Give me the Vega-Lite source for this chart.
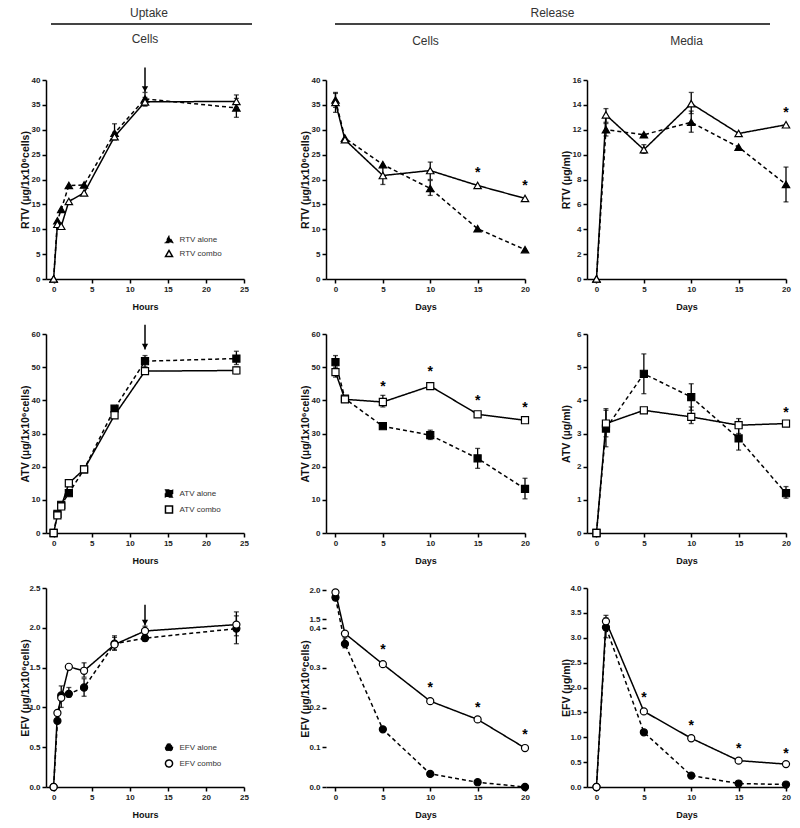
{
"$schema": "https://vega.github.io/schema/vega-lite/v6.json",
"padding": {"left": 20, "top": 7, "right": 5, "bottom": 5},
"background": "white",
"config": {
  "view": {"stroke": null},
  "font": "Liberation Sans",
  "axis": {"domainColor": "black", "domainWidth": 1.5, "tickColor": "black", "tickWidth": 1.5, "tickSize": 4, "labelFont": "Liberation Sans", "labelFontSize": 8, "labelFontWeight": "bold", "labelColor": "#222", "labelPadding": 2, "titleFont": "Liberation Sans", "titleFontSize": 9, "titleFontWeight": "bold", "titleColor": "#111", "grid": false, "labelOverlap": false, "labelFlush": false},
  "axisY": {"titlePadding": 1, "minExtent": 15, "maxExtent": 15, "titleFontSize": 10.5},
  "axisX": {"titlePadding": 9},
  "title": {"font": "Liberation Sans Narrow, Liberation Sans", "fontSize": 12, "fontWeight": "normal", "color": "#333", "anchor": "middle", "frame": "group"},
  "legend": {"title": null, "orient": "none", "legendX": 118.5, "legendY": 155, "labelFont": "Liberation Sans", "labelFontSize": 8, "labelColor": "#333", "symbolSize": 50, "labelOffset": 6, "rowPadding": 1, "padding": 0}
},
"datasets": {
  "obs": [
    {"p":"A","s":"RTV alone","x":0,"y":0},{"p":"A","s":"RTV alone","x":0.5,"y":11.7},{"p":"A","s":"RTV alone","x":1,"y":14.0},{"p":"A","s":"RTV alone","x":2,"y":18.8},{"p":"A","s":"RTV alone","x":4,"y":18.9},{"p":"A","s":"RTV alone","x":8,"y":29.3,"lo":28,"hi":31.2},{"p":"A","s":"RTV alone","x":12,"y":36.2,"lo":34.8,"hi":37.5},{"p":"A","s":"RTV alone","x":24,"y":34.4,"lo":32.5,"hi":36.3},
    {"p":"A","s":"RTV combo","x":0,"y":0},{"p":"A","s":"RTV combo","x":0.5,"y":11.0},{"p":"A","s":"RTV combo","x":1,"y":10.6},{"p":"A","s":"RTV combo","x":2,"y":15.6},{"p":"A","s":"RTV combo","x":4,"y":17.3},{"p":"A","s":"RTV combo","x":8,"y":28.6,"lo":28,"hi":29.5},{"p":"A","s":"RTV combo","x":12,"y":35.6,"lo":34.8,"hi":36.5},{"p":"A","s":"RTV combo","x":24,"y":35.7,"lo":34.5,"hi":37},
    {"p":"B","s":"RTV alone","x":0,"y":36,"lo":34.5,"hi":37.5},{"p":"B","s":"RTV alone","x":1,"y":28.3},{"p":"B","s":"RTV alone","x":5,"y":23.0},{"p":"B","s":"RTV alone","x":10,"y":18.2,"lo":16.8,"hi":19.8},{"p":"B","s":"RTV alone","x":15,"y":10.1},{"p":"B","s":"RTV alone","x":20,"y":5.9},
    {"p":"B","s":"RTV combo","x":0,"y":35.5,"lo":33.5,"hi":37.3},{"p":"B","s":"RTV combo","x":1,"y":28.0},{"p":"B","s":"RTV combo","x":5,"y":20.8,"lo":19,"hi":22.5},{"p":"B","s":"RTV combo","x":10,"y":21.8,"lo":20,"hi":23.5},{"p":"B","s":"RTV combo","x":15,"y":18.8},{"p":"B","s":"RTV combo","x":20,"y":16.2},
    {"p":"C","s":"RTV alone","x":0,"y":0},{"p":"C","s":"RTV alone","x":1,"y":12.0,"lo":11.5,"hi":12.5},{"p":"C","s":"RTV alone","x":5,"y":11.6},{"p":"C","s":"RTV alone","x":10,"y":12.6,"lo":11.8,"hi":13.5},{"p":"C","s":"RTV alone","x":15,"y":10.6},{"p":"C","s":"RTV alone","x":20,"y":7.6,"lo":6.2,"hi":9.0},
    {"p":"C","s":"RTV combo","x":0,"y":0},{"p":"C","s":"RTV combo","x":1,"y":13.2,"lo":12.6,"hi":13.7},{"p":"C","s":"RTV combo","x":5,"y":10.4,"lo":10.1,"hi":10.8},{"p":"C","s":"RTV combo","x":10,"y":14.1,"lo":13.3,"hi":15.0},{"p":"C","s":"RTV combo","x":15,"y":11.7},{"p":"C","s":"RTV combo","x":20,"y":12.4},
    {"p":"D","s":"ATV alone","x":0,"y":0},{"p":"D","s":"ATV alone","x":0.5,"y":5.8},{"p":"D","s":"ATV alone","x":1,"y":8.5},{"p":"D","s":"ATV alone","x":2,"y":12.0},{"p":"D","s":"ATV alone","x":4,"y":19.2},{"p":"D","s":"ATV alone","x":8,"y":37.5},{"p":"D","s":"ATV alone","x":12,"y":51.8,"lo":50,"hi":53.5},{"p":"D","s":"ATV alone","x":24,"y":52.6,"lo":50.8,"hi":54.8},
    {"p":"D","s":"ATV combo","x":0,"y":0},{"p":"D","s":"ATV combo","x":0.5,"y":5.3},{"p":"D","s":"ATV combo","x":1,"y":8.0},{"p":"D","s":"ATV combo","x":2,"y":15.0},{"p":"D","s":"ATV combo","x":4,"y":19.2},{"p":"D","s":"ATV combo","x":8,"y":35.5},{"p":"D","s":"ATV combo","x":12,"y":48.8,"lo":48,"hi":50},{"p":"D","s":"ATV combo","x":24,"y":49.0,"lo":48,"hi":50},
    {"p":"E","s":"ATV alone","x":0,"y":51.5,"lo":49.5,"hi":53.5},{"p":"E","s":"ATV alone","x":1,"y":40.5},{"p":"E","s":"ATV alone","x":5,"y":32.2},{"p":"E","s":"ATV alone","x":10,"y":29.5,"lo":28.2,"hi":31},{"p":"E","s":"ATV alone","x":15,"y":22.5,"lo":19.5,"hi":25.5},{"p":"E","s":"ATV alone","x":20,"y":13.3,"lo":10.3,"hi":16.5},
    {"p":"E","s":"ATV combo","x":0,"y":48.5,"lo":47,"hi":50},{"p":"E","s":"ATV combo","x":1,"y":40.3},{"p":"E","s":"ATV combo","x":5,"y":39.5,"lo":38,"hi":41.5},{"p":"E","s":"ATV combo","x":10,"y":44.3,"lo":43.5,"hi":45},{"p":"E","s":"ATV combo","x":15,"y":35.8},{"p":"E","s":"ATV combo","x":20,"y":34.0},
    {"p":"F","s":"ATV alone","x":0,"y":0},{"p":"F","s":"ATV alone","x":1,"y":3.15,"lo":2.6,"hi":3.7},{"p":"F","s":"ATV alone","x":5,"y":4.8,"lo":4.2,"hi":5.4},{"p":"F","s":"ATV alone","x":10,"y":4.1,"lo":3.7,"hi":4.5},{"p":"F","s":"ATV alone","x":15,"y":2.85,"lo":2.5,"hi":3.2},{"p":"F","s":"ATV alone","x":20,"y":1.2,"lo":1.05,"hi":1.4},
    {"p":"F","s":"ATV combo","x":0,"y":0},{"p":"F","s":"ATV combo","x":1,"y":3.3,"lo":2.9,"hi":3.75},{"p":"F","s":"ATV combo","x":5,"y":3.7},{"p":"F","s":"ATV combo","x":10,"y":3.5,"lo":3.3,"hi":3.8},{"p":"F","s":"ATV combo","x":15,"y":3.25,"lo":3.0,"hi":3.45},{"p":"F","s":"ATV combo","x":20,"y":3.3},
    {"p":"G","s":"EFV alone","x":0,"y":0},{"p":"G","s":"EFV alone","x":0.5,"y":0.83},{"p":"G","s":"EFV alone","x":1,"y":1.15},{"p":"G","s":"EFV alone","x":2,"y":1.17,"lo":1.13,"hi":1.25},{"p":"G","s":"EFV alone","x":4,"y":1.25,"lo":1.14,"hi":1.36},{"p":"G","s":"EFV alone","x":8,"y":1.80,"lo":1.72,"hi":1.9},{"p":"G","s":"EFV alone","x":12,"y":1.87,"lo":1.83,"hi":1.92},{"p":"G","s":"EFV alone","x":24,"y":1.99,"lo":1.8,"hi":2.15},
    {"p":"G","s":"EFV combo","x":0,"y":0},{"p":"G","s":"EFV combo","x":0.5,"y":0.93},{"p":"G","s":"EFV combo","x":1,"y":1.12,"lo":1.0,"hi":1.27},{"p":"G","s":"EFV combo","x":2,"y":1.51},{"p":"G","s":"EFV combo","x":4,"y":1.46,"lo":1.38,"hi":1.56},{"p":"G","s":"EFV combo","x":8,"y":1.79,"lo":1.72,"hi":1.88},{"p":"G","s":"EFV combo","x":12,"y":1.96,"lo":1.92,"hi":2.02},{"p":"G","s":"EFV combo","x":24,"y":2.04,"lo":1.9,"hi":2.2},
    {"p":"H","s":"EFV alone","x":0,"y":1.87},{"p":"H","s":"EFV alone","x":1,"y":0.36,"lo":0.35,"hi":0.375},{"p":"H","s":"EFV alone","x":5,"y":0.145,"lo":0.14,"hi":0.15},{"p":"H","s":"EFV alone","x":10,"y":0.033},{"p":"H","s":"EFV alone","x":15,"y":0.012},{"p":"H","s":"EFV alone","x":20,"y":0.0},
    {"p":"H","s":"EFV combo","x":0,"y":1.96},{"p":"H","s":"EFV combo","x":1,"y":0.386},{"p":"H","s":"EFV combo","x":5,"y":0.309},{"p":"H","s":"EFV combo","x":10,"y":0.216},{"p":"H","s":"EFV combo","x":15,"y":0.170},{"p":"H","s":"EFV combo","x":20,"y":0.098},
    {"p":"I","s":"EFV alone","x":0,"y":0},{"p":"I","s":"EFV alone","x":1,"y":3.21,"lo":3.0,"hi":3.4},{"p":"I","s":"EFV alone","x":5,"y":1.10},{"p":"I","s":"EFV alone","x":10,"y":0.23},{"p":"I","s":"EFV alone","x":15,"y":0.07},{"p":"I","s":"EFV alone","x":20,"y":0.05},
    {"p":"I","s":"EFV combo","x":0,"y":0},{"p":"I","s":"EFV combo","x":1,"y":3.33,"lo":3.15,"hi":3.45},{"p":"I","s":"EFV combo","x":5,"y":1.52},{"p":"I","s":"EFV combo","x":10,"y":0.98},{"p":"I","s":"EFV combo","x":15,"y":0.53},{"p":"I","s":"EFV combo","x":20,"y":0.46}
  ],
  "stars": [
    {"p":"B","x":15,"y":22.1},{"p":"B","x":20,"y":19.5},
    {"p":"C","x":20,"y":13.7},
    {"p":"E","x":5,"y":45.2},{"p":"E","x":10,"y":49.7},{"p":"E","x":15,"y":40.9},{"p":"E","x":20,"y":38.9},
    {"p":"F","x":20,"y":3.75},
    {"p":"H","x":5,"y":0.355},{"p":"H","x":10,"y":0.26},{"p":"H","x":15,"y":0.21},{"p":"H","x":20,"y":0.14},
    {"p":"I","x":5,"y":1.86},{"p":"I","x":10,"y":1.31},{"p":"I","x":15,"y":0.84},{"p":"I","x":20,"y":0.74}
  ],
  "arrows": [
    {"p":"A","x":12,"y":42.5,"y2":37.6},
    {"p":"D","x":12,"y":62.8,"y2":55.3},
    {"p":"G","x":12,"y":2.29,"y2":2.03}
  ]
},
"bounds": "flush",
"spacing": 56,
"resolve": {"scale": {"shape": "independent", "fill": "independent", "strokeDash": "independent"}, "legend": {"shape": "independent", "fill": "independent", "strokeDash": "independent"}},
"vconcat": [
  {"hconcat": [
    {"width": 206, "height": 1, "data": {"values": [{}]}, "title": {"text": "Uptake", "offset": 3}, "mark": {"type": "rule", "stroke": "#444", "strokeWidth": 2}, "encoding": {"x": {"value": 5}, "x2": {"value": "width"}, "y": {"value": 0}}},
    {"width": 435, "height": 1, "data": {"values": [{}]}, "title": {"text": "Release", "offset": 3}, "mark": {"type": "rule", "stroke": "#444", "strokeWidth": 2}, "encoding": {"x": {"value": 0}, "x2": {"value": "width"}, "y": {"value": 0}}}
  ], "spacing": 83, "bounds": "flush"},
  {"vconcat": [
    {"hconcat": [
      {"width": 198, "height": 199, "title": {"text": "Cells", "offset": 20.5},
       "encoding": {"x": {"field": "x", "type": "quantitative", "scale": {"domain": [-1, 25], "nice": false, "zero": false}, "axis": {"values": [0,5,10,15,20,25], "title": "Hours"}},
                    "y": {"field": "y", "type": "quantitative", "scale": {"domain": [0, 40], "nice": false}, "axis": {"values": [0,5,10,15,20,25,30,35,40]}, "title": "RTV (µg/1x10⁶cells)"}},
       "layer": [
        {"data": {"name": "obs"}, "transform": [{"filter": "datum.p === 'A'"}], "mark": {"type": "line", "stroke": "black", "strokeWidth": 1.5}, "encoding": {"strokeDash": {"field": "s", "type": "nominal", "scale": {"domain": ["RTV alone", "RTV combo"], "range": [[4,3],[1,0]]},
                                "legend": {"encode": {"symbols": {"shape": {"value": {"expr": "datum.value === 'RTV alone' ? 'M-1.75,0H-1.35M-1.0,0H-0.5M0.5,0H1.0M1.35,0H1.75M0,-0.85L0.9,0.7L-0.9,0.7Z' : 'M-1.75,0H-0.5M0.5,0H1.75M0,-0.85L0.9,0.7L-0.9,0.7Z'"}}, "stroke": {"value": "black"}, "strokeWidth": {"value": 1.2}, "strokeDash": {"value": [1, 0]}}}}}}},
        {"data": {"name": "obs"}, "transform": [{"filter": "datum.p === 'A' && isValid(datum.lo)"}], "mark": {"type": "errorbar", "ticks": true, "color": "black", "thickness": 1.3}, "encoding": {"y": {"field": "lo", "type": "quantitative", "scale": {"domain": [0, 40], "nice": false}, "title": "RTV (µg/1x10⁶cells)"}, "y2": {"field": "hi"}}},
        {"data": {"name": "obs"}, "transform": [{"filter": "datum.p === 'A'"}], "mark": {"type": "point", "filled": true, "stroke": "black", "strokeWidth": 1.2, "size": 55, "opacity": 1},
         "encoding": {"shape": {"field": "s", "type": "nominal", "scale": {"domain": ["RTV alone", "RTV combo"], "range": ["triangle-up", "triangle-up"]},
                                "legend": {"encode": {"symbols": {"shape": {"value": {"expr": "datum.value === 'RTV alone' ? 'M-1.75,0H-1.35M-1.0,0H-0.5M0.5,0H1.0M1.35,0H1.75M0,-0.85L0.9,0.7L-0.9,0.7Z' : 'M-1.75,0H-0.5M0.5,0H1.75M0,-0.85L0.9,0.7L-0.9,0.7Z'"}}, "stroke": {"value": "black"}, "strokeWidth": {"value": 1.2}, "strokeDash": {"value": [1, 0]}}}}},
                      "fill": {"field": "s", "type": "nominal", "scale": {"domain": ["RTV alone", "RTV combo"], "range": ["black", "white"]},
                                "legend": {"encode": {"symbols": {"shape": {"value": {"expr": "datum.value === 'RTV alone' ? 'M-1.75,0H-1.35M-1.0,0H-0.5M0.5,0H1.0M1.35,0H1.75M0,-0.85L0.9,0.7L-0.9,0.7Z' : 'M-1.75,0H-0.5M0.5,0H1.75M0,-0.85L0.9,0.7L-0.9,0.7Z'"}}, "stroke": {"value": "black"}, "strokeWidth": {"value": 1.2}, "strokeDash": {"value": [1, 0]}}}}}}},
        {"data": {"name": "arrows"}, "transform": [{"filter": "datum.p === 'A'"}], "mark": {"type": "rule", "stroke": "black", "strokeWidth": 1.5}, "encoding": {"y2": {"field": "y2"}}},
        {"data": {"name": "arrows"}, "transform": [{"filter": "datum.p === 'A'"}], "mark": {"type": "point", "shape": "triangle-down", "filled": true, "color": "black", "size": 40, "yOffset": -3, "opacity": 1}, "encoding": {"y": {"field": "y2", "type": "quantitative", "scale": {"domain": [0, 40], "nice": false}, "title": "RTV (µg/1x10⁶cells)"}}}
       ]},
      {"hconcat": [
        {"width": 199, "height": 199, "title": {"text": "Cells", "offset": 28.5},
         "encoding": {"x": {"field": "x", "type": "quantitative", "scale": {"domain": [-1, 20], "nice": false, "zero": false}, "axis": {"values": [0,5,10,15,20], "title": "Days"}},
                      "y": {"field": "y", "type": "quantitative", "scale": {"domain": [0, 40], "nice": false}, "axis": {"values": [0,5,10,15,20,25,30,35,40]}, "title": "RTV (µg/1x10⁶cells)"}},
         "layer": [
          {"data": {"name": "obs"}, "transform": [{"filter": "datum.p === 'B'"}], "mark": {"type": "line", "stroke": "black", "strokeWidth": 1.5}, "encoding": {"strokeDash": {"field": "s", "type": "nominal", "scale": {"domain": ["RTV alone", "RTV combo"], "range": [[4,3],[1,0]]}, "legend": null}}},
          {"data": {"name": "obs"}, "transform": [{"filter": "datum.p === 'B' && isValid(datum.lo)"}], "mark": {"type": "errorbar", "ticks": true, "color": "black", "thickness": 1.3}, "encoding": {"y": {"field": "lo", "type": "quantitative", "scale": {"domain": [0, 40], "nice": false}, "title": "RTV (µg/1x10⁶cells)"}, "y2": {"field": "hi"}}},
          {"data": {"name": "obs"}, "transform": [{"filter": "datum.p === 'B'"}], "mark": {"type": "point", "filled": true, "stroke": "black", "strokeWidth": 1.2, "size": 55, "opacity": 1}, "encoding": {"shape": {"field": "s", "type": "nominal", "scale": {"domain": ["RTV alone", "RTV combo"], "range": ["triangle-up", "triangle-up"]}, "legend": null}, "fill": {"field": "s", "type": "nominal", "scale": {"domain": ["RTV alone", "RTV combo"], "range": ["black", "white"]}, "legend": null}}},
          {"data": {"name": "stars"}, "transform": [{"filter": "datum.p === 'B'"}], "mark": {"type": "text", "text": "*", "fontSize": 14, "fontWeight": "bold", "baseline": "middle", "dy": 4, "color": "black"}}
         ]},
        {"width": 199, "height": 199, "title": {"text": "Media", "offset": 28.5},
         "encoding": {"x": {"field": "x", "type": "quantitative", "scale": {"domain": [-1, 20], "nice": false, "zero": false}, "axis": {"values": [0,5,10,15,20], "title": "Days"}},
                      "y": {"field": "y", "type": "quantitative", "scale": {"domain": [0, 16], "nice": false}, "axis": {"values": [0,2,4,6,8,10,12,14,16]}, "title": "RTV (µg/ml)"}},
         "layer": [
          {"data": {"name": "obs"}, "transform": [{"filter": "datum.p === 'C'"}], "mark": {"type": "line", "stroke": "black", "strokeWidth": 1.5}, "encoding": {"strokeDash": {"field": "s", "type": "nominal", "scale": {"domain": ["RTV alone", "RTV combo"], "range": [[4,3],[1,0]]}, "legend": null}}},
          {"data": {"name": "obs"}, "transform": [{"filter": "datum.p === 'C' && isValid(datum.lo)"}], "mark": {"type": "errorbar", "ticks": true, "color": "black", "thickness": 1.3}, "encoding": {"y": {"field": "lo", "type": "quantitative", "scale": {"domain": [0, 16], "nice": false}, "title": "RTV (µg/ml)"}, "y2": {"field": "hi"}}},
          {"data": {"name": "obs"}, "transform": [{"filter": "datum.p === 'C'"}], "mark": {"type": "point", "filled": true, "stroke": "black", "strokeWidth": 1.2, "size": 55, "opacity": 1}, "encoding": {"shape": {"field": "s", "type": "nominal", "scale": {"domain": ["RTV alone", "RTV combo"], "range": ["triangle-up", "triangle-up"]}, "legend": null}, "fill": {"field": "s", "type": "nominal", "scale": {"domain": ["RTV alone", "RTV combo"], "range": ["black", "white"]}, "legend": null}}},
          {"data": {"name": "stars"}, "transform": [{"filter": "datum.p === 'C'"}], "mark": {"type": "text", "text": "*", "fontSize": 14, "fontWeight": "bold", "baseline": "middle", "dy": 4, "color": "black"}}
         ]}
      ], "spacing": 62, "bounds": "flush", "resolve": {"scale": {"shape": "independent", "fill": "independent", "strokeDash": "independent"}, "legend": {"shape": "independent", "fill": "independent", "strokeDash": "independent"}}}
    ], "spacing": 82, "bounds": "flush", "resolve": {"scale": {"shape": "independent", "fill": "independent", "strokeDash": "independent"}, "legend": {"shape": "independent", "fill": "independent", "strokeDash": "independent"}}},

    {"hconcat": [
      {"width": 198, "height": 199,
       "encoding": {"x": {"field": "x", "type": "quantitative", "scale": {"domain": [-1, 25], "nice": false, "zero": false}, "axis": {"values": [0,5,10,15,20,25], "title": "Hours"}},
                    "y": {"field": "y", "type": "quantitative", "scale": {"domain": [0, 60], "nice": false}, "axis": {"values": [0,10,20,30,40,50,60]}, "title": "ATV (µg/1x10⁶cells)"}},
       "layer": [
        {"data": {"name": "obs"}, "transform": [{"filter": "datum.p === 'D'"}], "mark": {"type": "line", "stroke": "black", "strokeWidth": 1.5}, "encoding": {"strokeDash": {"field": "s", "type": "nominal", "scale": {"domain": ["ATV alone", "ATV combo"], "range": [[4,3],[1,0]]},
                                "legend": {"encode": {"symbols": {"shape": {"value": {"expr": "datum.value === 'ATV alone' ? 'M-1.75,0H-1.4M-1.1,0H-0.7M0.7,0H1.1M1.4,0H1.75M-0.7,-0.7H0.7V0.7H-0.7Z' : 'M-1.75,0H-0.7M0.7,0H1.75M-0.7,-0.7H0.7V0.7H-0.7Z'"}}, "stroke": {"value": "black"}, "strokeWidth": {"value": 1.2}, "strokeDash": {"value": [1, 0]}}}}}}},
        {"data": {"name": "obs"}, "transform": [{"filter": "datum.p === 'D' && isValid(datum.lo)"}], "mark": {"type": "errorbar", "ticks": true, "color": "black", "thickness": 1.3}, "encoding": {"y": {"field": "lo", "type": "quantitative", "scale": {"domain": [0, 60], "nice": false}, "title": "ATV (µg/1x10⁶cells)"}, "y2": {"field": "hi"}}},
        {"data": {"name": "obs"}, "transform": [{"filter": "datum.p === 'D'"}], "mark": {"type": "point", "filled": true, "stroke": "black", "strokeWidth": 1.2, "size": 50, "opacity": 1},
         "encoding": {"shape": {"field": "s", "type": "nominal", "scale": {"domain": ["ATV alone", "ATV combo"], "range": ["square", "square"]},
                                "legend": {"encode": {"symbols": {"shape": {"value": {"expr": "datum.value === 'ATV alone' ? 'M-1.75,0H-1.4M-1.1,0H-0.7M0.7,0H1.1M1.4,0H1.75M-0.7,-0.7H0.7V0.7H-0.7Z' : 'M-1.75,0H-0.7M0.7,0H1.75M-0.7,-0.7H0.7V0.7H-0.7Z'"}}, "stroke": {"value": "black"}, "strokeWidth": {"value": 1.2}, "strokeDash": {"value": [1, 0]}}}}},
                      "fill": {"field": "s", "type": "nominal", "scale": {"domain": ["ATV alone", "ATV combo"], "range": ["black", "white"]},
                                "legend": {"encode": {"symbols": {"shape": {"value": {"expr": "datum.value === 'ATV alone' ? 'M-1.75,0H-1.4M-1.1,0H-0.7M0.7,0H1.1M1.4,0H1.75M-0.7,-0.7H0.7V0.7H-0.7Z' : 'M-1.75,0H-0.7M0.7,0H1.75M-0.7,-0.7H0.7V0.7H-0.7Z'"}}, "stroke": {"value": "black"}, "strokeWidth": {"value": 1.2}, "strokeDash": {"value": [1, 0]}}}}}}},
        {"data": {"name": "arrows"}, "transform": [{"filter": "datum.p === 'D'"}], "mark": {"type": "rule", "stroke": "black", "strokeWidth": 1.5}, "encoding": {"y2": {"field": "y2"}}},
        {"data": {"name": "arrows"}, "transform": [{"filter": "datum.p === 'D'"}], "mark": {"type": "point", "shape": "triangle-down", "filled": true, "color": "black", "size": 40, "yOffset": -3, "opacity": 1}, "encoding": {"y": {"field": "y2", "type": "quantitative", "scale": {"domain": [0, 60], "nice": false}, "title": "ATV (µg/1x10⁶cells)"}}}
       ]},
      {"hconcat": [
        {"width": 199, "height": 199,
         "encoding": {"x": {"field": "x", "type": "quantitative", "scale": {"domain": [-1, 20], "nice": false, "zero": false}, "axis": {"values": [0,5,10,15,20], "title": "Days"}},
                      "y": {"field": "y", "type": "quantitative", "scale": {"domain": [0, 60], "nice": false}, "axis": {"values": [0,10,20,30,40,50,60]}, "title": "ATV (µg/1x10⁶cells)"}},
         "layer": [
          {"data": {"name": "obs"}, "transform": [{"filter": "datum.p === 'E'"}], "mark": {"type": "line", "stroke": "black", "strokeWidth": 1.5}, "encoding": {"strokeDash": {"field": "s", "type": "nominal", "scale": {"domain": ["ATV alone", "ATV combo"], "range": [[4,3],[1,0]]}, "legend": null}}},
          {"data": {"name": "obs"}, "transform": [{"filter": "datum.p === 'E' && isValid(datum.lo)"}], "mark": {"type": "errorbar", "ticks": true, "color": "black", "thickness": 1.3}, "encoding": {"y": {"field": "lo", "type": "quantitative", "scale": {"domain": [0, 60], "nice": false}, "title": "ATV (µg/1x10⁶cells)"}, "y2": {"field": "hi"}}},
          {"data": {"name": "obs"}, "transform": [{"filter": "datum.p === 'E'"}], "mark": {"type": "point", "filled": true, "stroke": "black", "strokeWidth": 1.2, "size": 50, "opacity": 1}, "encoding": {"shape": {"field": "s", "type": "nominal", "scale": {"domain": ["ATV alone", "ATV combo"], "range": ["square", "square"]}, "legend": null}, "fill": {"field": "s", "type": "nominal", "scale": {"domain": ["ATV alone", "ATV combo"], "range": ["black", "white"]}, "legend": null}}},
          {"data": {"name": "stars"}, "transform": [{"filter": "datum.p === 'E'"}], "mark": {"type": "text", "text": "*", "fontSize": 14, "fontWeight": "bold", "baseline": "middle", "dy": 4, "color": "black"}}
         ]},
        {"width": 199, "height": 199,
         "encoding": {"x": {"field": "x", "type": "quantitative", "scale": {"domain": [-1, 20], "nice": false, "zero": false}, "axis": {"values": [0,5,10,15,20], "title": "Days"}},
                      "y": {"field": "y", "type": "quantitative", "scale": {"domain": [0, 6], "nice": false}, "axis": {"values": [0,1,2,3,4,5,6]}, "title": "ATV (µg/ml)"}},
         "layer": [
          {"data": {"name": "obs"}, "transform": [{"filter": "datum.p === 'F'"}], "mark": {"type": "line", "stroke": "black", "strokeWidth": 1.5}, "encoding": {"strokeDash": {"field": "s", "type": "nominal", "scale": {"domain": ["ATV alone", "ATV combo"], "range": [[4,3],[1,0]]}, "legend": null}}},
          {"data": {"name": "obs"}, "transform": [{"filter": "datum.p === 'F' && isValid(datum.lo)"}], "mark": {"type": "errorbar", "ticks": true, "color": "black", "thickness": 1.3}, "encoding": {"y": {"field": "lo", "type": "quantitative", "scale": {"domain": [0, 6], "nice": false}, "title": "ATV (µg/ml)"}, "y2": {"field": "hi"}}},
          {"data": {"name": "obs"}, "transform": [{"filter": "datum.p === 'F'"}], "mark": {"type": "point", "filled": true, "stroke": "black", "strokeWidth": 1.2, "size": 50, "opacity": 1}, "encoding": {"shape": {"field": "s", "type": "nominal", "scale": {"domain": ["ATV alone", "ATV combo"], "range": ["square", "square"]}, "legend": null}, "fill": {"field": "s", "type": "nominal", "scale": {"domain": ["ATV alone", "ATV combo"], "range": ["black", "white"]}, "legend": null}}},
          {"data": {"name": "stars"}, "transform": [{"filter": "datum.p === 'F'"}], "mark": {"type": "text", "text": "*", "fontSize": 14, "fontWeight": "bold", "baseline": "middle", "dy": 4, "color": "black"}}
         ]}
      ], "spacing": 62, "bounds": "flush", "resolve": {"scale": {"shape": "independent", "fill": "independent", "strokeDash": "independent"}, "legend": {"shape": "independent", "fill": "independent", "strokeDash": "independent"}}}
    ], "spacing": 82, "bounds": "flush", "resolve": {"scale": {"shape": "independent", "fill": "independent", "strokeDash": "independent"}, "legend": {"shape": "independent", "fill": "independent", "strokeDash": "independent"}}},

    {"hconcat": [
      {"width": 198, "height": 199,
       "encoding": {"x": {"field": "x", "type": "quantitative", "scale": {"domain": [-1, 25], "nice": false, "zero": false}, "axis": {"values": [0,5,10,15,20,25], "title": "Hours"}},
                    "y": {"field": "y", "type": "quantitative", "scale": {"domain": [0, 2.5], "nice": false}, "axis": {"values": [0,0.5,1,1.5,2,2.5], "format": ".1f"}, "title": "EFV (µg/1x10⁶cells)"}},
       "layer": [
        {"data": {"name": "obs"}, "transform": [{"filter": "datum.p === 'G'"}], "mark": {"type": "line", "stroke": "black", "strokeWidth": 1.5}, "encoding": {"strokeDash": {"field": "s", "type": "nominal", "scale": {"domain": ["EFV alone", "EFV combo"], "range": [[4,3],[1,0]]},
                                "legend": {"encode": {"symbols": {"shape": {"value": {"expr": "datum.value === 'EFV alone' ? 'M-1.75,0H-1.4M-1.1,0H-0.75M0.75,0H1.1M1.4,0H1.75M-0.75,0A0.75,0.75 0 1,0 0.75,0A0.75,0.75 0 1,0 -0.75,0Z' : 'M-1.75,0H-0.75M0.75,0H1.75M-0.75,0A0.75,0.75 0 1,0 0.75,0A0.75,0.75 0 1,0 -0.75,0Z'"}}, "stroke": {"value": "black"}, "strokeWidth": {"value": 1.2}, "strokeDash": {"value": [1, 0]}}}}}}},
        {"data": {"name": "obs"}, "transform": [{"filter": "datum.p === 'G' && isValid(datum.lo)"}], "mark": {"type": "errorbar", "ticks": true, "color": "black", "thickness": 1.3}, "encoding": {"y": {"field": "lo", "type": "quantitative", "scale": {"domain": [0, 2.5], "nice": false}, "title": "EFV (µg/1x10⁶cells)"}, "y2": {"field": "hi"}}},
        {"data": {"name": "obs"}, "transform": [{"filter": "datum.p === 'G'"}], "mark": {"type": "point", "filled": true, "stroke": "black", "strokeWidth": 1.2, "size": 50, "opacity": 1},
         "encoding": {"shape": {"field": "s", "type": "nominal", "scale": {"domain": ["EFV alone", "EFV combo"], "range": ["circle", "circle"]},
                                "legend": {"encode": {"symbols": {"shape": {"value": {"expr": "datum.value === 'EFV alone' ? 'M-1.75,0H-1.4M-1.1,0H-0.75M0.75,0H1.1M1.4,0H1.75M-0.75,0A0.75,0.75 0 1,0 0.75,0A0.75,0.75 0 1,0 -0.75,0Z' : 'M-1.75,0H-0.75M0.75,0H1.75M-0.75,0A0.75,0.75 0 1,0 0.75,0A0.75,0.75 0 1,0 -0.75,0Z'"}}, "stroke": {"value": "black"}, "strokeWidth": {"value": 1.2}, "strokeDash": {"value": [1, 0]}}}}},
                      "fill": {"field": "s", "type": "nominal", "scale": {"domain": ["EFV alone", "EFV combo"], "range": ["black", "white"]},
                                "legend": {"encode": {"symbols": {"shape": {"value": {"expr": "datum.value === 'EFV alone' ? 'M-1.75,0H-1.4M-1.1,0H-0.75M0.75,0H1.1M1.4,0H1.75M-0.75,0A0.75,0.75 0 1,0 0.75,0A0.75,0.75 0 1,0 -0.75,0Z' : 'M-1.75,0H-0.75M0.75,0H1.75M-0.75,0A0.75,0.75 0 1,0 0.75,0A0.75,0.75 0 1,0 -0.75,0Z'"}}, "stroke": {"value": "black"}, "strokeWidth": {"value": 1.2}, "strokeDash": {"value": [1, 0]}}}}}}},
        {"data": {"name": "arrows"}, "transform": [{"filter": "datum.p === 'G'"}], "mark": {"type": "rule", "stroke": "black", "strokeWidth": 1.5}, "encoding": {"y2": {"field": "y2"}}},
        {"data": {"name": "arrows"}, "transform": [{"filter": "datum.p === 'G'"}], "mark": {"type": "point", "shape": "triangle-down", "filled": true, "color": "black", "size": 40, "yOffset": -3, "opacity": 1}, "encoding": {"y": {"field": "y2", "type": "quantitative", "scale": {"domain": [0, 2.5], "nice": false}, "title": "EFV (µg/1x10⁶cells)"}}}
       ]},
      {"hconcat": [
        {"width": 199, "height": 199,
         "encoding": {"x": {"field": "x", "type": "quantitative", "scale": {"domain": [-1, 20], "nice": false, "zero": false}, "axis": {"values": [0,5,10,15,20], "title": "Days"}},
                      "y": {"field": "y", "type": "quantitative", "scale": {"domain": [0, 0.4, 1.5, 2.0], "range": [199, 40, 31, 2], "nice": false, "zero": false}, "axis": {"values": [0,0.1,0.2,0.3,0.4,1.5,2.0], "format": ".1f", "domain": false}, "title": "EFV (µg/1x10⁶cells)"}},
         "layer": [
          {"data": {"values": [{}]}, "mark": {"type": "rule", "stroke": "black", "strokeWidth": 1.5}, "encoding": {"x": {"datum": -1}, "y": {"datum": 0}, "y2": {"datum": 0.4}}},
          {"data": {"values": [{}]}, "mark": {"type": "rule", "stroke": "black", "strokeWidth": 1.5}, "encoding": {"x": {"datum": -1}, "y": {"datum": 1.5}, "y2": {"datum": 2.0}}},
          {"data": {"name": "obs"}, "transform": [{"filter": "datum.p === 'H'"}], "mark": {"type": "line", "stroke": "black", "strokeWidth": 1.5}, "encoding": {"strokeDash": {"field": "s", "type": "nominal", "scale": {"domain": ["EFV alone", "EFV combo"], "range": [[4,3],[1,0]]}, "legend": null}}},
          {"data": {"name": "obs"}, "transform": [{"filter": "datum.p === 'H' && isValid(datum.lo)"}], "mark": {"type": "errorbar", "ticks": true, "color": "black", "thickness": 1.3}, "encoding": {"y": {"field": "lo", "type": "quantitative", "scale": {"domain": [0, 0.4, 1.5, 2.0], "range": [199, 40, 31, 2], "nice": false, "zero": false}, "title": "EFV (µg/1x10⁶cells)"}, "y2": {"field": "hi"}}},
          {"data": {"name": "obs"}, "transform": [{"filter": "datum.p === 'H'"}], "mark": {"type": "point", "filled": true, "stroke": "black", "strokeWidth": 1.2, "size": 50, "opacity": 1}, "encoding": {"shape": {"field": "s", "type": "nominal", "scale": {"domain": ["EFV alone", "EFV combo"], "range": ["circle", "circle"]}, "legend": null}, "fill": {"field": "s", "type": "nominal", "scale": {"domain": ["EFV alone", "EFV combo"], "range": ["black", "white"]}, "legend": null}}},
          {"data": {"name": "stars"}, "transform": [{"filter": "datum.p === 'H'"}], "mark": {"type": "text", "text": "*", "fontSize": 14, "fontWeight": "bold", "baseline": "middle", "dy": 4, "color": "black"}}
         ]},
        {"width": 199, "height": 199,
         "encoding": {"x": {"field": "x", "type": "quantitative", "scale": {"domain": [-1, 20], "nice": false, "zero": false}, "axis": {"values": [0,5,10,15,20], "title": "Days"}},
                      "y": {"field": "y", "type": "quantitative", "scale": {"domain": [0, 4], "nice": false}, "axis": {"values": [0,0.5,1,1.5,2,2.5,3,3.5,4], "format": ".1f"}, "title": "EFV (µg/ml)"}},
         "layer": [
          {"data": {"name": "obs"}, "transform": [{"filter": "datum.p === 'I'"}], "mark": {"type": "line", "stroke": "black", "strokeWidth": 1.5}, "encoding": {"strokeDash": {"field": "s", "type": "nominal", "scale": {"domain": ["EFV alone", "EFV combo"], "range": [[4,3],[1,0]]}, "legend": null}}},
          {"data": {"name": "obs"}, "transform": [{"filter": "datum.p === 'I' && isValid(datum.lo)"}], "mark": {"type": "errorbar", "ticks": true, "color": "black", "thickness": 1.3}, "encoding": {"y": {"field": "lo", "type": "quantitative", "scale": {"domain": [0, 4], "nice": false}, "title": "EFV (µg/ml)"}, "y2": {"field": "hi"}}},
          {"data": {"name": "obs"}, "transform": [{"filter": "datum.p === 'I'"}], "mark": {"type": "point", "filled": true, "stroke": "black", "strokeWidth": 1.2, "size": 50, "opacity": 1}, "encoding": {"shape": {"field": "s", "type": "nominal", "scale": {"domain": ["EFV alone", "EFV combo"], "range": ["circle", "circle"]}, "legend": null}, "fill": {"field": "s", "type": "nominal", "scale": {"domain": ["EFV alone", "EFV combo"], "range": ["black", "white"]}, "legend": null}}},
          {"data": {"name": "stars"}, "transform": [{"filter": "datum.p === 'I'"}], "mark": {"type": "text", "text": "*", "fontSize": 14, "fontWeight": "bold", "baseline": "middle", "dy": 4, "color": "black"}}
         ]}
      ], "spacing": 62, "bounds": "flush", "resolve": {"scale": {"shape": "independent", "fill": "independent", "strokeDash": "independent"}, "legend": {"shape": "independent", "fill": "independent", "strokeDash": "independent"}}}
    ], "spacing": 82, "bounds": "flush", "resolve": {"scale": {"shape": "independent", "fill": "independent", "strokeDash": "independent"}, "legend": {"shape": "independent", "fill": "independent", "strokeDash": "independent"}}}
  ], "spacing": 254, "bounds": "flush", "resolve": {"scale": {"shape": "independent", "fill": "independent", "strokeDash": "independent"}, "legend": {"shape": "independent", "fill": "independent", "strokeDash": "independent"}}}
]
}
